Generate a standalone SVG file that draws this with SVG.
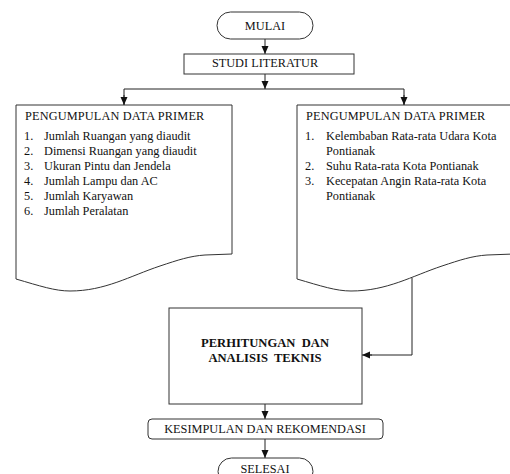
<svg xmlns="http://www.w3.org/2000/svg" width="510" height="474" viewBox="0 0 510 474">
<style>
.s{fill:#fff;stroke:#333;stroke-width:1}
.c{fill:none;stroke:#222;stroke-width:1}
text{font-family:"Liberation Serif","Times New Roman",serif;font-size:12.3px;fill:#111;white-space:pre}
.m{text-anchor:middle}
.b{font-weight:bold;font-size:12.6px}
.h{letter-spacing:0.15px}
</style>
<defs>
<marker id="ah" viewBox="0 0 8 8" refX="8" refY="4" markerWidth="8" markerHeight="8" markerUnits="userSpaceOnUse" orient="auto">
<path d="M0,0.5 L8,4 L0,7.5 Z" fill="#111"/>
</marker>
</defs>
<rect width="510" height="474" fill="#fff"/>
<g id="connectors">
<line class="c" x1="265" y1="39" x2="265" y2="54" marker-end="url(#ah)"/>
<line class="c" x1="265" y1="74" x2="265" y2="89" marker-end="url(#ah)"/>
<polyline class="c" points="124,105 124,89 404,89 404,105"/>
<line class="c" x1="124" y1="95" x2="124" y2="105" marker-end="url(#ah)"/>
<line class="c" x1="404" y1="95" x2="404" y2="105" marker-end="url(#ah)"/>
<polyline class="c" points="412,278 412,355 370,355"/>
<line class="c" x1="372" y1="355" x2="362" y2="355" marker-end="url(#ah)"/>
<line class="c" x1="265" y1="404" x2="265" y2="419" marker-end="url(#ah)"/>
<line class="c" x1="265" y1="439" x2="265" y2="458" marker-end="url(#ah)"/>
</g>
<g id="mulai">
<rect class="s" x="217" y="12" width="96" height="27" rx="13.5"/>
<text class="m" x="265" y="30">MULAI</text>
</g>
<g id="studi">
<rect class="s" x="184" y="54" width="170" height="20"/>
<text class="m" x="265" y="66.5">STUDI LITERATUR</text>
</g>
<g id="data1">
<path class="s" d="M16,105 L232,105 L232,254 L205,255 C190,256 178,260 160,266 C130,276 105,291 70,291 C55,291 40,286 16,279 Z"/>
<text class="h" x="25" y="120">PENGUMPULAN DATA PRIMER</text>
<text x="24" y="140">1.</text><text x="44" y="140">Jumlah Ruangan yang diaudit</text>
<text x="24" y="155">2.</text><text x="44" y="155">Dimensi Ruangan yang diaudit</text>
<text x="24" y="170">3.</text><text x="44" y="170">Ukuran Pintu dan Jendela</text>
<text x="24" y="185">4.</text><text x="44" y="185">Jumlah Lampu dan AC</text>
<text x="24" y="200">5.</text><text x="44" y="200">Jumlah Karyawan</text>
<text x="24" y="215">6.</text><text x="44" y="215">Jumlah Peralatan</text>
</g>
<g id="data2">
<path class="s" d="M297,105 L514,105 L514,254 L487,255 C472,256 460,260 442,266 C412,276 387,291 351,291 C336,291 321,286 297,279 Z"/>
<text class="h" x="306" y="120">PENGUMPULAN DATA PRIMER</text>
<text x="305" y="140">1.</text><text x="326" y="140">Kelembaban Rata-rata Udara Kota</text>
<text x="326" y="155">Pontianak</text>
<text x="305" y="170">2.</text><text x="326" y="170">Suhu Rata-rata Kota Pontianak</text>
<text x="305" y="185">3.</text><text x="326" y="185">Kecepatan Angin Rata-rata Kota</text>
<text x="326" y="200">Pontianak</text>
</g>
<g id="analisis">
<rect class="s" x="169" y="308" width="193" height="96"/>
<text class="m b" x="265" y="347">PERHITUNGAN  DAN</text>
<text class="m b" x="265" y="362">ANALISIS  TEKNIS</text>
</g>
<g id="kesimpulan">
<rect class="s" x="148" y="419" width="235" height="20" rx="4"/>
<text class="m" x="265" y="433">KESIMPULAN DAN REKOMENDASI</text>
</g>
<g id="selesai">
<rect class="s" x="218" y="458" width="95" height="27" rx="13.5"/>
<text class="m" x="265" y="473">SELESAI</text>
</g>
</svg>
